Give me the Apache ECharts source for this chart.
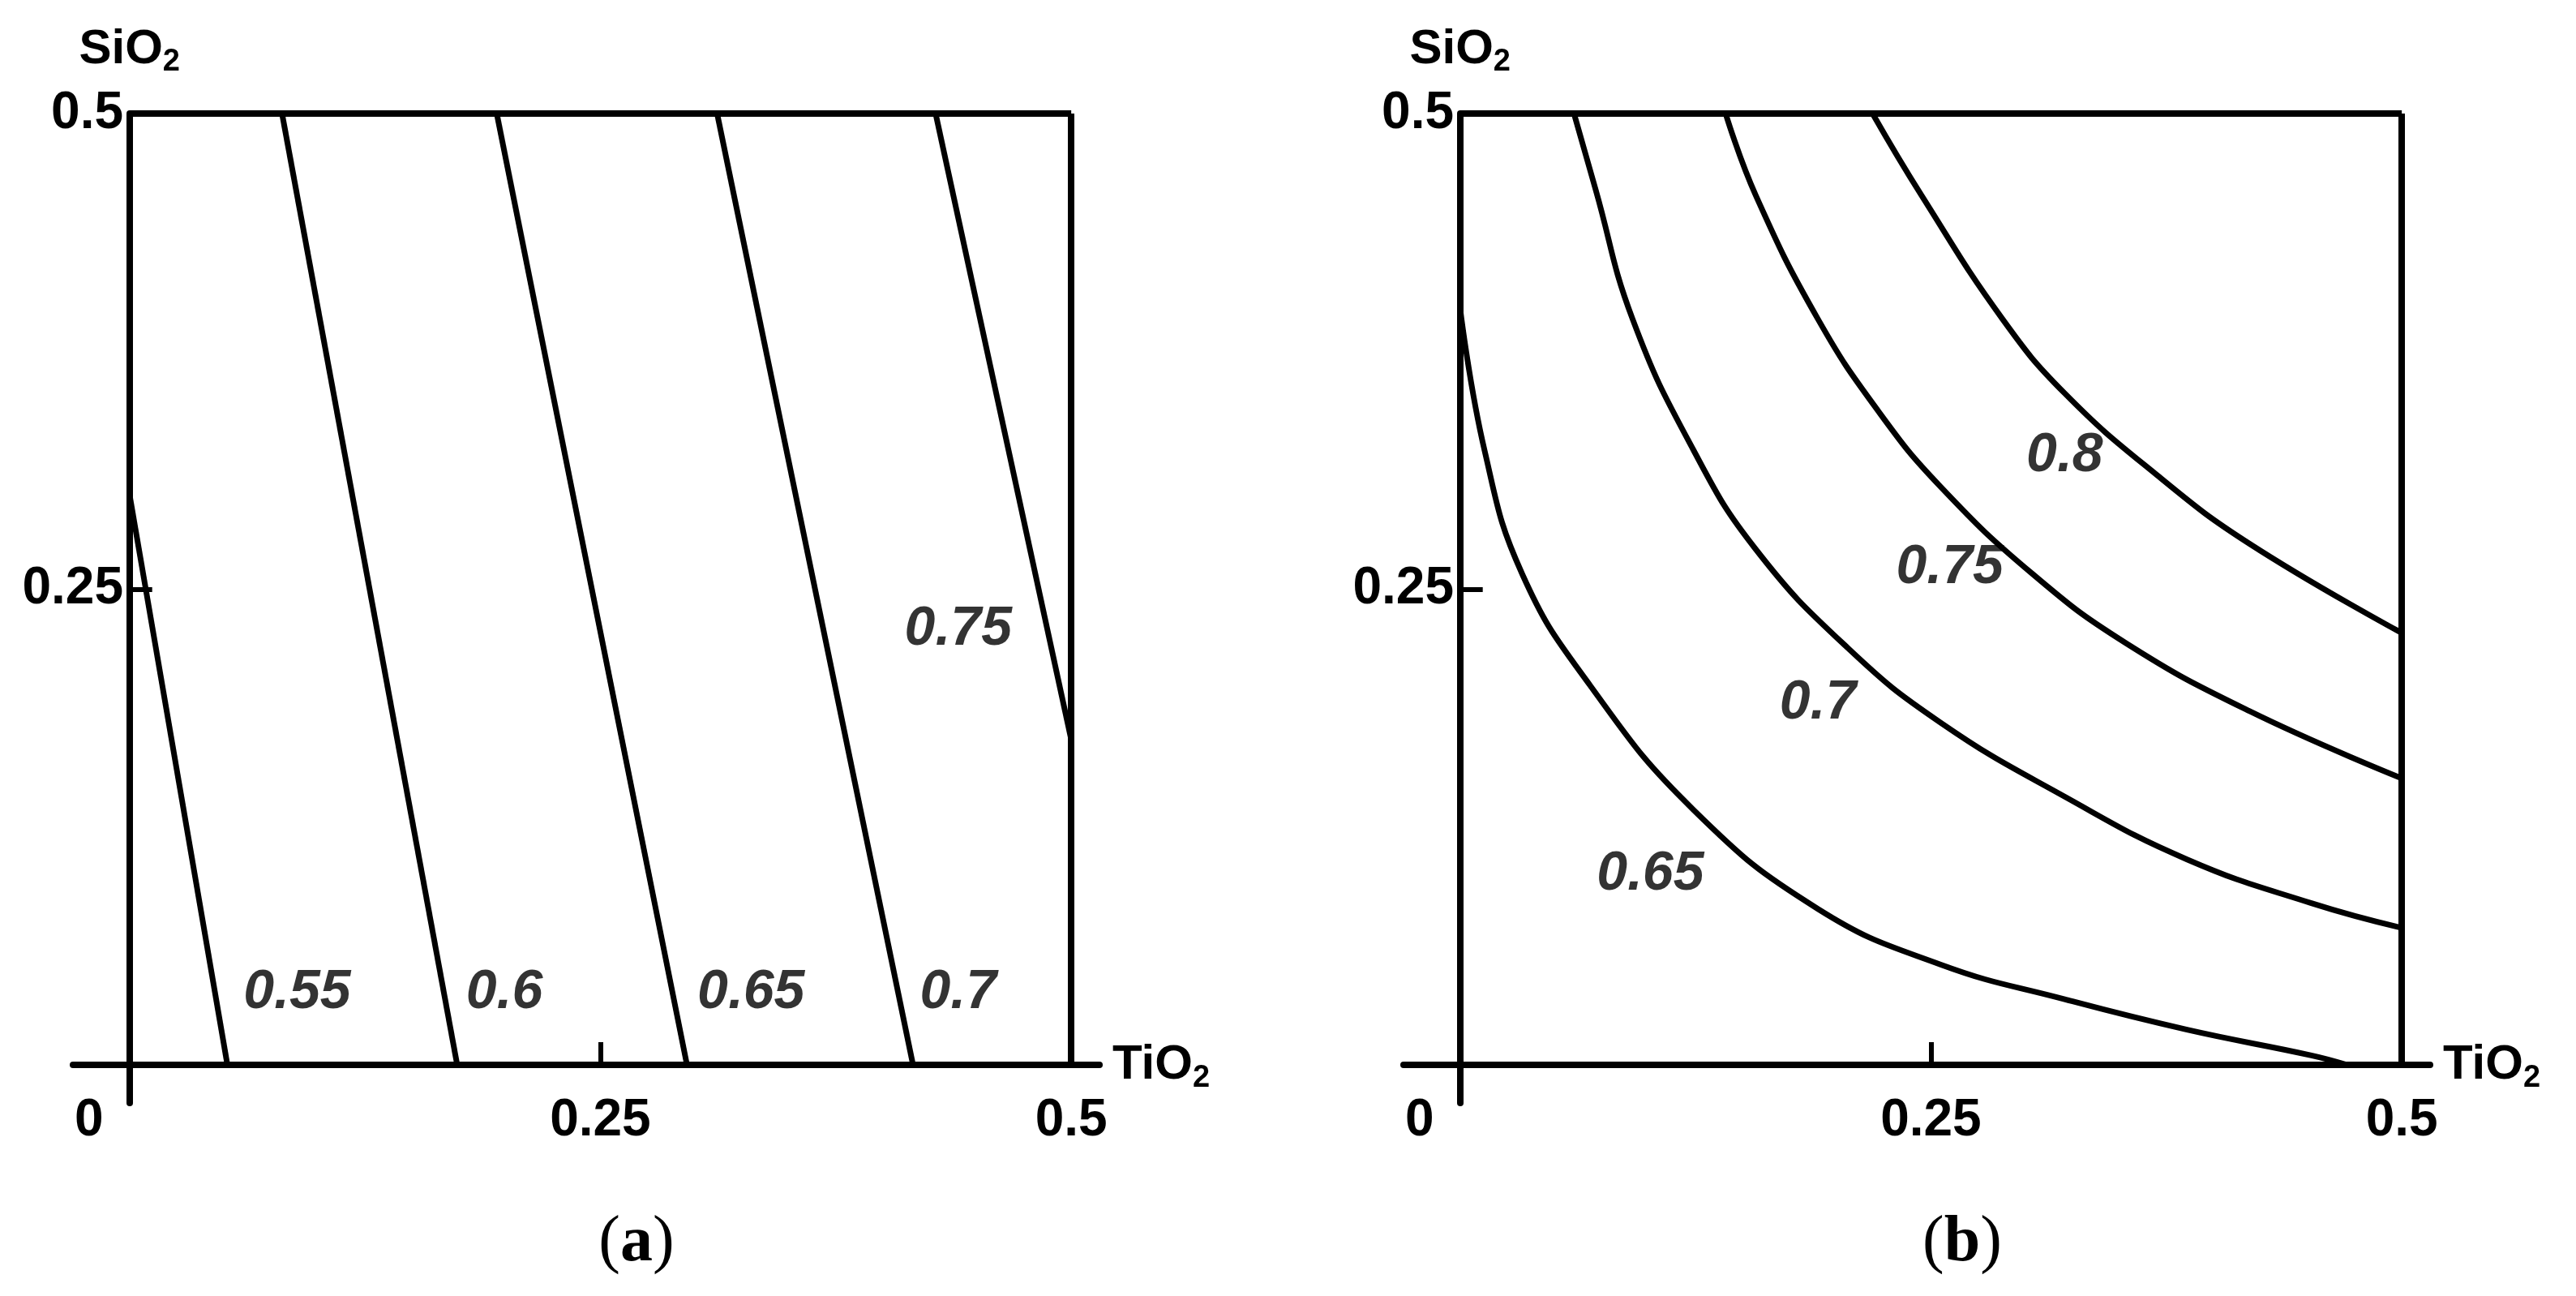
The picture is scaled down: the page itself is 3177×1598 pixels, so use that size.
<!DOCTYPE html>
<html>
<head>
<meta charset="utf-8">
<script src="https://cdn.jsdelivr.net/npm/echarts@6/dist/echarts.min.js"></script>
<style>html,body{margin:0;padding:0;background:#fff}#chart{width:3177px;height:1598px}</style>
</head>
<body>
<div id="chart"></div>
<script>
// panel (a): straight contour lines [TiO2, SiO2]
var aLines = {
  '0.55': [[0, 0.30], [0.052, 0]],
  '0.6': [[0.081, 0.5], [0.174, 0]],
  '0.65': [[0.195, 0.5], [0.296, 0]],
  '0.7': [[0.312, 0.5], [0.416, 0]],
  '0.75': [[0.428, 0.5], [0.5, 0.171]]
};
var aLabels = [['0.55', 0.089, 0.038], ['0.6', 0.199, 0.038], ['0.65', 0.330, 0.038], ['0.7', 0.44, 0.038], ['0.75', 0.44, 0.229]];

// panel (b): curved contour lines
var bLines = {
  '0.65': [[0, 0.398], [0.013, 0.323], [0.033, 0.258], [0.069, 0.1995], [0.124, 0.134], [0.190, 0.082], [0.255, 0.0528], [0.321, 0.0345], [0.386, 0.0185], [0.452, 0.005], [0.471, 0]],
  '0.7': [[0.0605, 0.5], [0.072, 0.460], [0.0916, 0.392], [0.124, 0.323], [0.157, 0.271], [0.206, 0.219], [0.255, 0.18], [0.321, 0.141], [0.386, 0.108], [0.452, 0.085], [0.5, 0.072]],
  '0.75': [[0.141, 0.5], [0.157, 0.457], [0.190, 0.392], [0.2225, 0.343], [0.255, 0.304], [0.304, 0.258], [0.353, 0.222], [0.419, 0.186], [0.5, 0.1506]],
  '0.8': [[0.219, 0.5], [0.245, 0.457], [0.288, 0.392], [0.321, 0.353], [0.370, 0.310], [0.419, 0.274], [0.5, 0.227]]
};
var bLabels = [['0.8', 0.321, 0.32], ['0.75', 0.26, 0.261], ['0.7', 0.19, 0.19], ['0.65', 0.101, 0.10]];

var xTicks = [0, 0.25, 0.5];
var yTicks = [0.25, 0.5];

var font = 'Liberation Sans, Arial, sans-serif';
var ink = '#000';
var chart = echarts.init(document.getElementById('chart'));

function axisName() {
  return {
    rich: {
      n: { fontFamily: font, fontWeight: 'bold', fontSize: 60, color: ink },
      s: { fontFamily: font, fontWeight: 'bold', fontSize: 38, color: ink, padding: [32, 0, 0, 0] }
    }
  };
}

function axes(idx) {
  var x = {
    gridIndex: idx, type: 'value', min: -0.03, max: 0.515,
    name: '{n|TiO}{s|2}', nameLocation: 'end', nameGap: 16,
    nameTextStyle: axisName(),
    axisLine: { onZero: true, lineStyle: { color: ink, width: 8 } },
    axisTick: { show: true, inside: true, length: 28, customValues: [0.25], lineStyle: { color: ink, width: 6 } },
    axisLabel: {
      customValues: xTicks, margin: -10, fontFamily: font, fontWeight: 'bold', fontSize: 64, color: ink,
      formatter: function (v) { return v === 0 ? '{z|0}' : String(v); },
      rich: { z: { fontFamily: font, fontWeight: 'bold', fontSize: 64, color: ink, padding: [0, 100, 0, 0] } }
    },
    splitLine: { show: false }
  };
  var y = {
    gridIndex: idx, type: 'value', min: -0.02, max: 0.5,
    name: '{n|SiO}{s|2}', nameLocation: 'end', nameGap: 44,
    nameTextStyle: axisName(),
    axisLine: { onZero: true, lineStyle: { color: ink, width: 8 } },
    axisTick: { show: true, inside: true, length: 28, customValues: yTicks, lineStyle: { color: ink, width: 6 } },
    axisLabel: { customValues: yTicks, margin: -62, fontFamily: font, fontWeight: 'bold', fontSize: 64, color: ink },
    splitLine: { show: false }
  };
  return [x, y];
}

var ax0 = axes(0), ax1 = axes(1);
var series = [];

function addPanel(idx, lines, labels, smooth) {
  Object.keys(lines).forEach(function (k) {
    series.push({
      type: 'line', xAxisIndex: idx, yAxisIndex: idx, data: lines[k],
      smooth: smooth ? 0.45 : false,
      symbol: 'none', lineStyle: { color: ink, width: 7 }, silent: true
    });
  });
  // box top and right sides
  series.push({
    type: 'line', xAxisIndex: idx, yAxisIndex: idx, data: [], silent: true,
    markLine: {
      symbol: 'none', silent: true, label: { show: false },
      lineStyle: { color: ink, width: 8, type: 'solid' },
      data: [
        [{ coord: [0, 0.5] }, { coord: [0.5, 0.5] }],
        [{ coord: [0.5, 0] }, { coord: [0.5, 0.5] }]
      ]
    }
  });
  series.push({
    type: 'scatter', xAxisIndex: idx, yAxisIndex: idx, symbolSize: 0, silent: true,
    data: labels.map(function (l) { return { name: l[0], value: [l[1], l[2]] }; }),
    label: { show: true, position: 'inside', formatter: '{b}', fontFamily: font, fontWeight: 'bold', fontStyle: 'italic', fontSize: 68, color: ink }
  });
}
addPanel(0, aLines, aLabels, false);
addPanel(1, bLines, bLabels, true);

var capStyle = {
  fontFamily: 'Liberation Serif, serif', fontWeight: 'normal', fontSize: 80, color: ink,
  rich: { b: { fontFamily: 'Liberation Serif, serif', fontWeight: 'bold', fontSize: 80, color: ink } }
};

chart.setOption({
  animation: false,
  backgroundColor: '#fff',
  grid: [
    { left: 90, width: 1266, top: 140, height: 1220, outerBoundsMode: 'none', containLabel: false },
    { left: 1731, width: 1266, top: 140, height: 1220, outerBoundsMode: 'none', containLabel: false }
  ],
  xAxis: [ax0[0], ax1[0]],
  yAxis: [ax0[1], ax1[1]],
  title: [
    { text: '({b|a})', left: 780, top: 1488, textAlign: 'center', textStyle: capStyle },
    { text: '({b|b})', left: 2415, top: 1488, textAlign: 'center', textStyle: capStyle }
  ],
  series: series
});
</script>
</body>
</html>
